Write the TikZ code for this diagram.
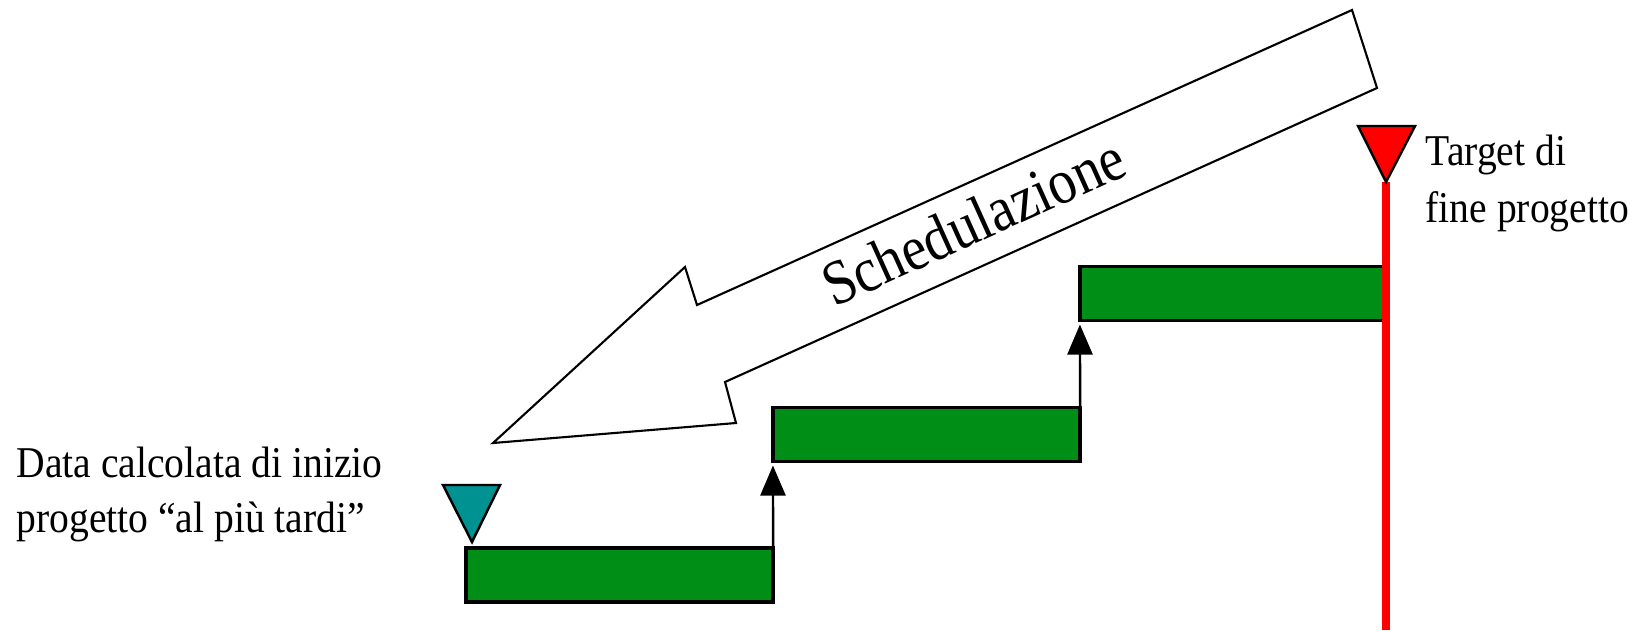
\documentclass[tikz,border=0pt]{standalone}
\usepackage{fontspec}
\setmainfont{Liberation Serif}
\usetikzlibrary{arrows.meta}
\definecolor{barg}{RGB}{0,142,22}
\definecolor{tealc}{RGB}{0,145,145}
\begin{document}
\begin{tikzpicture}[x=0.01cm,y=-0.01cm,
  bar/.style={draw=black, line width=1.1pt, fill=barg, minimum width=3.07cm, minimum height=0.54cm, inner sep=0pt, outer sep=0pt},
  conn/.style={line width=0.7pt, -{Triangle[length=0.30cm,width=0.25cm]}, shorten >=0.04cm},
  lbl/.style={font=\fontsize{12.5}{16}\selectfont, inner sep=0pt, xscale=0.9, anchor=base west},
  outline/.style={draw=black, line width=0.6pt, fill=white, line join=miter},
  tri/.style={draw=black, line width=0.7pt},
  redline/.style={draw=red, line width=2.3pt}
]
\useasboundingbox (0,0) rectangle (1637,630);
\fill[white] (0,0) rectangle (1637,630);

% big scheduling arrow
\draw[outline] (493,443) -- (736,423) -- (725,382) -- (1377,88) -- (1352,10) -- (697,305) -- (685,267) -- cycle;
\node[font=\fontsize{18}{21}\selectfont, rotate=24.3, xscale=0.88, anchor=base, inner sep=0pt] (sch) at (982,241) {Schedulazione};

% bars
\node[bar] (bar1) at (619.5,575) {};
\node[bar] (bar2) at (926.5,434.5) {};
\node[bar] (bar3) at (1233.5,293.5) {};

% connectors
\draw[conn] (bar1.north east) -- (bar2.south west);
\draw[conn] (bar2.north east) -- (bar3.south west);

% red target line and triangle
\coordinate (rtip) at (1386,182);
\coordinate (rbot) at (1386,630);
\draw[redline] (rtip) -- (rbot);
\draw[tri, fill=red] (1358,126) -- (1415,126) -- (rtip) -- cycle;

% teal start triangle
\draw[tri, fill=tealc] (443,485) -- (500,485) -- (472,542) -- cycle;

% labels
\node[lbl] (l1) at (16,477) {Data calcolata di inizio};
\node[lbl] (l2) at (16,532) {progetto “al più tardi”};
\node[lbl] (t1) at (1425,165) {Target di};
\node[lbl] (t2) at (1425,222) {fine progetto};
\end{tikzpicture}
\end{document}
